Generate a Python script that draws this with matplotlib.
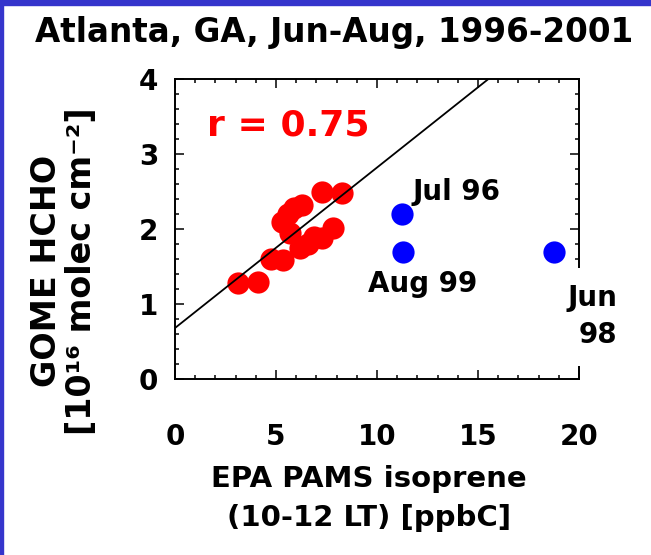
import numpy as np
import matplotlib
matplotlib.use("Agg")
from matplotlib import pyplot as plt
from matplotlib.patches import Rectangle
from matplotlib.ticker import MultipleLocator

# monthly means, Jun-Aug 1996-2001
isoprene = [3.1, 4.1, 4.75, 5.35, 5.3, 5.6, 5.9, 6.3, 5.7, 6.2, 6.6, 6.9, 7.3, 7.8, 7.3, 8.25]
hcho = [1.28, 1.29, 1.60, 1.59, 2.10, 2.20, 2.28, 2.32, 1.95, 1.75, 1.80, 1.90, 1.88, 2.01, 2.50, 2.48]

# outlier months
out_labels = ["Jul 96", "Aug 99", "Jun\n98"]
out_isoprene = [11.25, 11.3, 18.75]
out_hcho = [2.20, 1.69, 1.69]

# regression line
fit_intercept = 0.68
fit_slope = 0.214
r_value = 0.75

plt.rcParams["font.family"] = "DejaVu Sans"
plt.rcParams["font.weight"] = "bold"

fig = plt.figure(figsize=(6.51, 5.55), dpi=100)
ax = fig.add_axes([0.2688, 0.3171, 0.6206, 0.5405])

# blue frame on the left and top edge
fig.patches.append(Rectangle((0, 0), 3 / 651, 1, transform=fig.transFigure,
                             color="#3535cc", zorder=10))
fig.patches.append(Rectangle((0, 1 - 5 / 555), 1, 5 / 555, transform=fig.transFigure,
                             color="#3535cc", zorder=10))

ax.plot(isoprene, hcho, "o", color="#ff0000", markersize=16, markeredgewidth=0, zorder=3)
ax.plot(out_isoprene, out_hcho, "o", color="#0000ff", markersize=16, markeredgewidth=0, zorder=5)

xs = np.array([0, 20])
ax.plot(xs, fit_intercept + fit_slope * xs, color="black", linewidth=1.3, zorder=4)

ax.text(1.58, 3.25, "r = %.2f" % r_value, color="#ff0000", fontsize=26,
        fontweight="bold", va="baseline")
ax.text(11.78, 2.39, out_labels[0], fontsize=20, fontweight="bold", va="baseline")
ax.text(9.55, 1.16, out_labels[1], fontsize=20, fontweight="bold", va="baseline")
ax.text(21.88, 0.48, out_labels[2], fontsize=20, fontweight="bold", va="baseline",
        ha="right", multialignment="right", linespacing=1.4, zorder=4.5,
        bbox=dict(facecolor="white", edgecolor="none", pad=12))

ax.set_xlim(0, 20)
ax.set_ylim(0, 4)
ax.xaxis.set_major_locator(MultipleLocator(5))
ax.xaxis.set_minor_locator(MultipleLocator(1))
ax.yaxis.set_major_locator(MultipleLocator(1))
ax.yaxis.set_minor_locator(MultipleLocator(0.2))
ax.tick_params(which="both", direction="in", top=True, right=True, width=1.1)
ax.tick_params(which="major", length=6.5, labelsize=20)
ax.tick_params(axis="y", which="major", pad=12)
ax.tick_params(axis="x", which="major", pad=32)
ax.tick_params(which="minor", length=3)
for s in ax.spines.values():
    s.set_linewidth(1.4)

ax.set_xlabel("EPA PAMS isoprene\n(10-12 LT) [ppbC]", fontsize=21,
              fontweight="bold", linespacing=1.5)
ax.xaxis.set_label_coords(0.48, -0.285)
ax.set_ylabel("GOME HCHO\n[10\u00b9\u2076 molec cm\u207b\u00b2]", fontsize=24,
              fontweight="bold", linespacing=1.1)
ax.yaxis.set_label_coords(-0.19, 0.36)

fig.text(0.513, 1 - 42 / 555, "Atlanta, GA, Jun-Aug, 1996-2001", fontsize=23.5,
         fontweight="bold", ha="center", va="baseline")

fig.savefig("out.png", dpi=100)
